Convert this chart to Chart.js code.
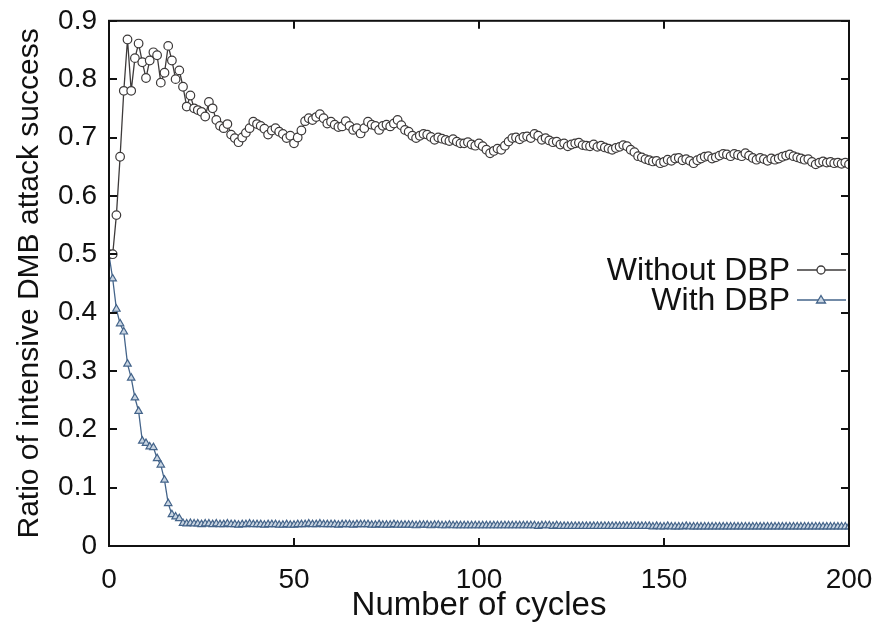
<!DOCTYPE html>
<html lang="en">

<head>
  <title>DMB attack success</title>
  <meta charset="UTF-8">
  <script src="https://cdn.jsdelivr.net/npm/chart.js"></script>
  <style>
    html, body { margin: 0; padding: 0; background: #fff; }
    .container { width: 893px; height: 627px; }
  </style>
</head>

<body>
  <div class="container"><canvas id="chart"></canvas></div>
</body>

<script>
  // values, one per cycle (0..200)
  const withoutDbp = [
    0.5, 0.5, 0.567, 0.667, 0.78, 0.868, 0.78, 0.836, 0.861, 0.829,
    0.802, 0.832, 0.846, 0.841, 0.794, 0.811, 0.857, 0.832, 0.80, 0.815,
    0.787, 0.753, 0.772, 0.75, 0.747, 0.744, 0.736, 0.761, 0.75, 0.73,
    0.72, 0.716, 0.723, 0.705, 0.699, 0.692, 0.70, 0.708, 0.716, 0.727,
    0.723, 0.72, 0.715, 0.705, 0.712, 0.716, 0.71, 0.706, 0.699, 0.703,
    0.69, 0.70, 0.712, 0.728, 0.733, 0.73, 0.735, 0.74, 0.733, 0.724,
    0.727, 0.722, 0.718, 0.719, 0.728, 0.72, 0.713, 0.716, 0.707, 0.716,
    0.727, 0.722, 0.72, 0.713, 0.72, 0.722, 0.719, 0.724, 0.73, 0.721,
    0.713, 0.71, 0.703, 0.699, 0.703, 0.706, 0.705, 0.701, 0.696, 0.70,
    0.698, 0.696, 0.694, 0.697, 0.693, 0.69, 0.69, 0.692, 0.688, 0.686,
    0.69, 0.685, 0.679, 0.673, 0.677, 0.681, 0.679, 0.686, 0.693, 0.699,
    0.70, 0.697, 0.701, 0.702, 0.699, 0.706, 0.703, 0.696, 0.699, 0.695,
    0.692, 0.693, 0.688, 0.69, 0.685, 0.688, 0.69, 0.691, 0.687, 0.686,
    0.685, 0.688, 0.684, 0.686, 0.683, 0.681, 0.679, 0.682, 0.684, 0.687,
    0.685, 0.679, 0.675, 0.668, 0.666, 0.663, 0.661, 0.659, 0.66, 0.656,
    0.658, 0.662, 0.66, 0.664, 0.665, 0.661, 0.663, 0.66, 0.656, 0.661,
    0.664, 0.667, 0.668, 0.664, 0.666, 0.669, 0.672, 0.671, 0.668, 0.672,
    0.67, 0.668, 0.673, 0.669, 0.665, 0.662, 0.665, 0.663, 0.66, 0.664,
    0.662, 0.664, 0.667, 0.669, 0.671, 0.668, 0.666, 0.664, 0.662, 0.663,
    0.658, 0.654, 0.657, 0.659, 0.657, 0.658, 0.656, 0.657, 0.655, 0.657,
    0.654
  ];

  const withDbp = [
    0.499, 0.458, 0.406, 0.381, 0.367, 0.312, 0.288, 0.254, 0.231, 0.18,
    0.176, 0.17, 0.169, 0.15, 0.139, 0.113, 0.073, 0.054, 0.05, 0.047,
    0.039, 0.038, 0.039, 0.038, 0.038, 0.037, 0.038, 0.038, 0.037, 0.038,
    0.037, 0.037, 0.038, 0.037, 0.037, 0.036, 0.037, 0.037, 0.038, 0.037,
    0.037, 0.037, 0.036, 0.037, 0.037, 0.037, 0.036, 0.036, 0.037, 0.036,
    0.036, 0.037, 0.037, 0.037, 0.038, 0.037, 0.037, 0.038, 0.037, 0.037,
    0.037, 0.037, 0.036, 0.037, 0.037, 0.037, 0.036, 0.037, 0.037, 0.037,
    0.037, 0.036, 0.036, 0.037, 0.036, 0.036, 0.036, 0.037, 0.036, 0.036,
    0.036, 0.036, 0.036, 0.035, 0.036, 0.036, 0.036, 0.035, 0.036, 0.036,
    0.035, 0.035, 0.036, 0.035, 0.035, 0.035, 0.035, 0.035, 0.035, 0.035,
    0.035, 0.035, 0.035, 0.035, 0.035, 0.035, 0.035, 0.035, 0.035, 0.035,
    0.035, 0.035, 0.035, 0.035, 0.035, 0.035, 0.034, 0.035, 0.035, 0.035,
    0.034, 0.035, 0.034, 0.034, 0.034, 0.034, 0.034, 0.034, 0.034, 0.034,
    0.034, 0.034, 0.034, 0.034, 0.034, 0.034, 0.034, 0.034, 0.034, 0.034,
    0.034, 0.034, 0.034, 0.034, 0.034, 0.034, 0.034, 0.033, 0.034, 0.033,
    0.033, 0.034, 0.033, 0.033, 0.033, 0.033, 0.034, 0.033, 0.033, 0.033,
    0.033, 0.033, 0.033, 0.033, 0.033, 0.033, 0.033, 0.033, 0.033, 0.033,
    0.033, 0.033, 0.033, 0.033, 0.033, 0.033, 0.033, 0.033, 0.033, 0.033,
    0.033, 0.033, 0.033, 0.033, 0.033, 0.033, 0.033, 0.033, 0.033, 0.033,
    0.033, 0.033, 0.033, 0.033, 0.033, 0.033, 0.033, 0.033, 0.033, 0.033,
    0.033
  ];

  const seriesLabels = ['Without DBP', 'With DBP'];
  const xTicks = [0, 50, 100, 150, 200];
  const yTicks = [0, 0.1, 0.2, 0.3, 0.4, 0.5, 0.6, 0.7, 0.8, 0.9];

  const fonte = '"Liberation Sans", Arial, sans-serif';
  const corSem = '#3d3a3a';
  const corCom = '#44648a';

  // frame, inward ticks on all four sides, and the legend inside the plot
  const moldura = {
    id: 'moldura',
    afterDraw(chart) {
      const c = chart.ctx;
      const a = chart.chartArea;
      const sx = chart.scales.x;
      const sy = chart.scales.y;
      c.save();
      c.strokeStyle = '#111';
      c.lineWidth = 2;
      c.strokeRect(a.left, a.top, a.right - a.left, a.bottom - a.top);
      c.beginPath();
      xTicks.forEach(t => {
        const px = Math.round(sx.getPixelForValue(t));
        c.moveTo(px, a.bottom); c.lineTo(px, a.bottom - 8);
        c.moveTo(px, a.top); c.lineTo(px, a.top + 8);
      });
      yTicks.forEach(t => {
        const py = Math.round(sy.getPixelForValue(t));
        c.moveTo(a.left, py); c.lineTo(a.left + 8, py);
        c.moveTo(a.right, py); c.lineTo(a.right - 8, py);
      });
      c.stroke();

      // legend
      c.font = '32px ' + fonte;
      c.textAlign = 'right';
      c.textBaseline = 'middle';
      const ds = chart.data.datasets;
      const linhas = [270, 300];
      ds.forEach((d, i) => {
        const y = linhas[i];
        c.fillStyle = '#111';
        c.fillText(d.label, 790, y + 1);
        c.strokeStyle = d.borderColor;
        c.lineWidth = 1.3;
        c.beginPath();
        c.moveTo(797, y); c.lineTo(846, y);
        c.stroke();
        c.fillStyle = d.pointBackgroundColor;
        c.beginPath();
        if (d.pointStyle === 'triangle') {
          c.moveTo(821, y - 4.5); c.lineTo(825.5, y + 3); c.lineTo(816.5, y + 3); c.closePath();
        } else {
          c.arc(821, y, 4, 0, Math.PI * 2);
        }
        c.fill();
        c.stroke();
      });
      c.restore();
    }
  };

  const dados = {
    datasets: [{
      label: seriesLabels[0],
      data: withoutDbp.map((v, i) => ({ x: i, y: v })),
      borderColor: corSem,
      borderWidth: 1.3,
      pointStyle: 'circle',
      pointRadius: 4.3,
      pointBorderWidth: 1.2,
      pointBackgroundColor: '#ffffff',
      pointBorderColor: corSem,
      fill: false
    }, {
      label: seriesLabels[1],
      data: withDbp.map((v, i) => ({ x: i, y: v })),
      borderColor: corCom,
      borderWidth: 1.3,
      pointStyle: 'triangle',
      pointRadius: 4.3,
      pointBorderWidth: 1.2,
      pointBackgroundColor: '#c9d5e2',
      pointBorderColor: corCom,
      fill: false
    }]
  };

  const opcoes = {
    responsive: false,
    animation: false,
    layout: { padding: { left: 0, right: 44, top: 17, bottom: 0 } },
    plugins: { legend: { display: false }, tooltip: { enabled: false } },
    scales: {
      x: {
        type: 'linear',
        min: 0, max: 200,
        afterFit: s => { s.height = 81; },
        afterBuildTicks: s => { s.ticks = xTicks.map(v => ({ value: v })); },
        grid: { display: false },
        border: { display: false },
        ticks: { color: '#111', font: { family: fonte, size: 28 }, padding: 9, maxRotation: 0 },
        title: { display: true, text: 'Number of cycles', color: '#111', font: { family: fonte, size: 33 }, padding: { top: 0, bottom: 1 } }
      },
      y: {
        min: 0, max: 0.9,
        afterFit: s => { s.width = 109; },
        afterBuildTicks: s => { s.ticks = yTicks.map(v => ({ value: v })); },
        grid: { display: false },
        border: { display: false },
        ticks: {
          color: '#111', font: { family: fonte, size: 28 }, padding: 4,
          callback: v => v === 0 ? '0' : v.toFixed(1)
        },
        title: { display: true, text: 'Ratio of intensive DMB attack success', color: '#111', font: { family: fonte, size: 30 }, padding: { top: 12, bottom: 0 } }
      }
    }
  };

  const canvas = document.getElementById('chart');
  canvas.width = 893;
  canvas.height = 627;

  new Chart(canvas, {
    type: 'line',
    data: dados,
    options: opcoes,
    plugins: [moldura]
  });
</script>

</html>
